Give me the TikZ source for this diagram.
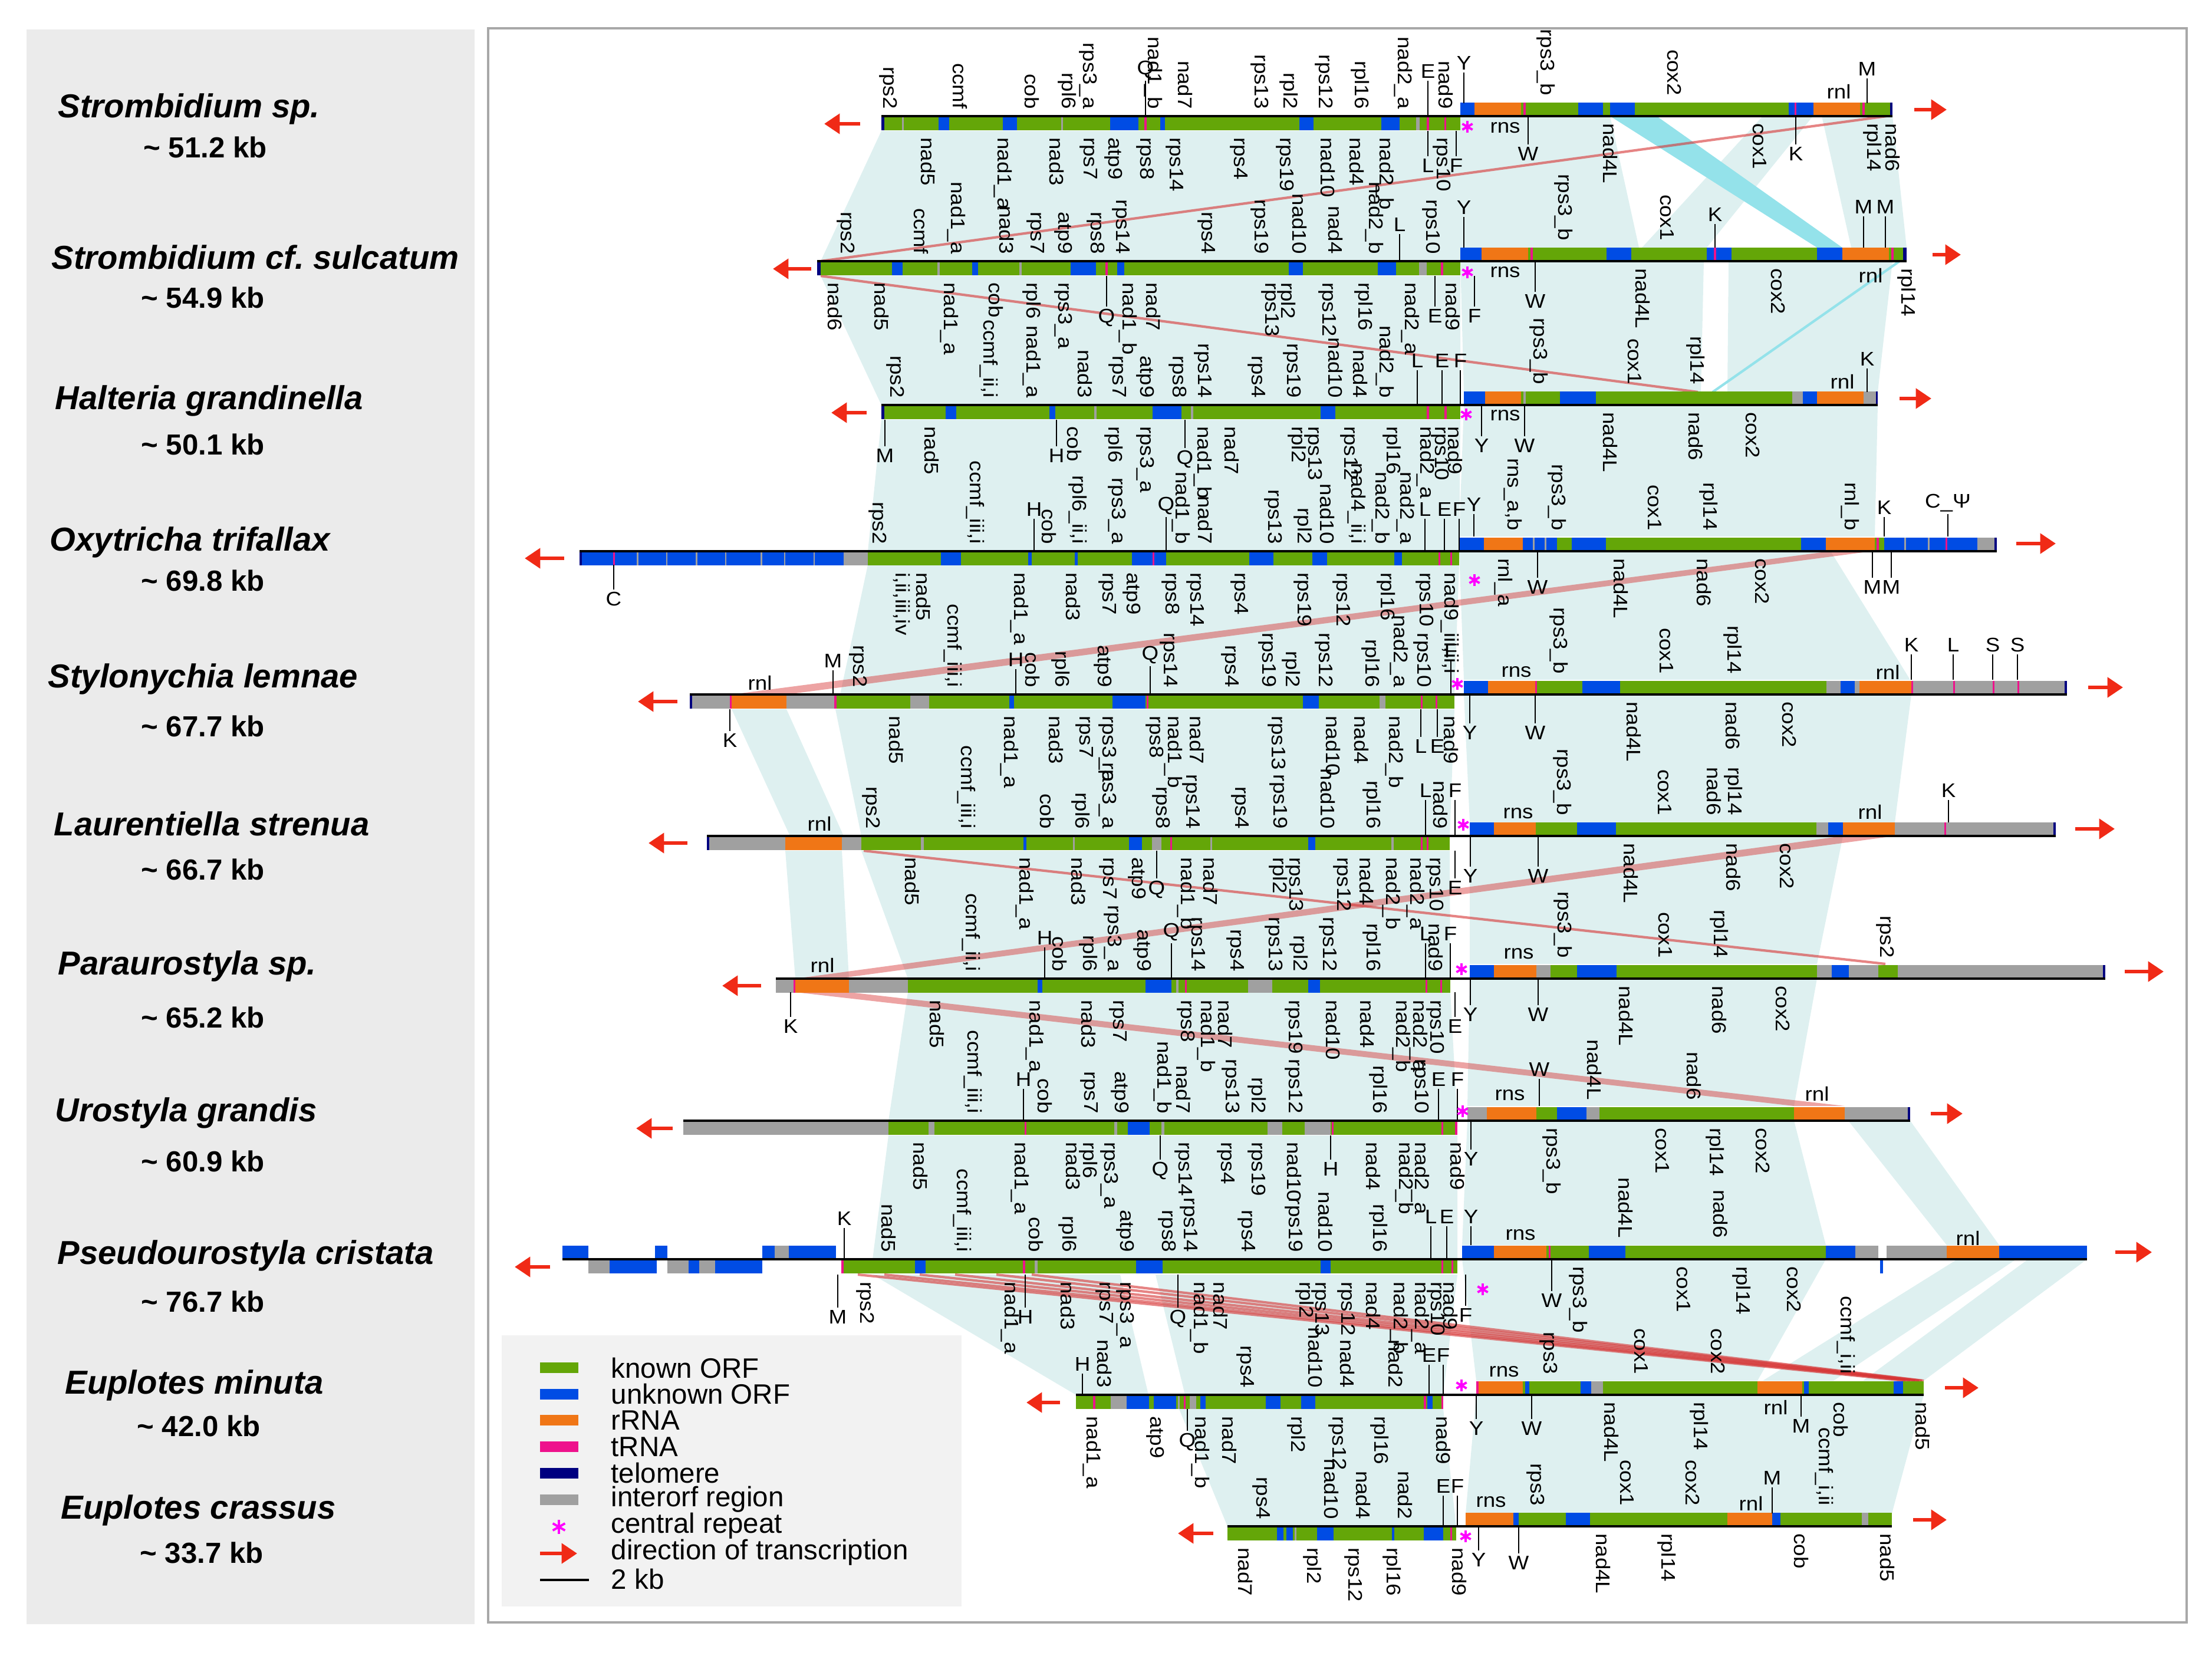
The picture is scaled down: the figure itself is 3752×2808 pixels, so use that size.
\documentclass[tikz,border=0pt]{standalone}
\usepackage{fontspec}
\setmainfont{Liberation Sans}
\newfontfamily\genefont[FakeStretch=1.1]{Liberation Sans}
\usetikzlibrary{arrows.meta}
\definecolor{knwn}{RGB}{100,166,8}
\definecolor{unkn}{RGB}{0,76,228}
\definecolor{rrna}{RGB}{240,118,22}
\definecolor{trna}{RGB}{238,18,140}
\definecolor{telo}{RGB}{0,0,128}
\definecolor{intr}{RGB}{160,160,160}
\definecolor{PaleClr}{RGB}{222,240,240}
\definecolor{CyanClr}{RGB}{148,226,234}
\definecolor{RedClr}{RGB}{214,50,50}
\definecolor{ArrClr}{RGB}{240,42,22}
\definecolor{CrepClr}{RGB}{255,0,255}
\definecolor{PanelClr}{RGB}{235,235,235}
\definecolor{LegClr}{RGB}{242,242,242}
\definecolor{FrameClr}{RGB}{168,168,168}

\tikzset{
  glab/.style={rotate=-90,font=\genefont\fontsize{9.5}{10}\selectfont,inner sep=1pt},
  tlab/.style={font=\genefont\fontsize{9.5}{10}\selectfont,inner sep=1pt},
  tck/.style={draw=black,line width=0.35pt},
  axln/.style={draw=black,line width=1.3pt},
  dirarr/.style={draw=ArrClr,line width=1.8pt,-{Triangle[length=7.5pt,width=9.5pt]}},
  pale/.style={fill=PaleClr},
  cyanband/.style={fill=CyanClr},
  cyanln/.style={draw=CyanClr,line width=1.2pt},
  redband/.style={fill=RedClr,fill opacity=0.45},
  redln/.style={draw=RedClr,line width=1.2pt,draw opacity=0.6},
  crepln/.style={draw=CrepClr,line width=1.1pt},
  crep/.pic={\foreach \ang in {90,30,-30} \draw[crepln] (\ang:10) -- (\ang+180:10);},
  spname/.style={anchor=west,font=\fontsize{16}{18}\selectfont\bfseries\itshape,inner sep=0pt},
  spsize/.style={font=\fontsize{14}{16}\selectfont\bfseries,inner sep=0pt},
  legtxt/.style={anchor=west,font=\fontsize{13.5}{15}\selectfont,inner sep=0pt}
}

\newcommand\lseg[2]{\foreach \xa/\xb/\cl in {#2} \fill[\cl] (\xa,#1) rectangle (\xb,#1+24);}
\newcommand\rseg[2]{\foreach \xa/\xb/\cl in {#2} \fill[\cl] (\xa,#1-23) rectangle (\xb,#1);}
\newcommand\labu[3]{\foreach \x/\lb [count=\k] in {#3} \node[glab,anchor=east] (#1-\k) at (\x,#2) {\lb};}
\newcommand\labd[3]{\foreach \x/\lb [count=\k] in {#3} \node[glab,anchor=west] (#1-\k) at (\x,#2) {\lb};}
\newcommand\ticku[2]{\foreach \x/\p/\q/\lb [count=\k] in {#2} \draw[tck] (\x,\p) -- (\x,\q) node[tlab,above] (#1-\k) {\lb};}
\newcommand\tickd[2]{\foreach \x/\p/\q/\lb [count=\k] in {#2} \draw[tck] (\x,\p) -- (\x,\q) node[tlab,below] (#1-\k) {\lb};}
\newcommand\hlab[2]{\foreach \x/\y/\lb [count=\k] in {#2} \node[tlab] (#1-\k) at (\x,\y) {\lb};}

\begin{document}
\begin{tikzpicture}[x=0.01cm,y=-0.01cm]
\useasboundingbox (0,0) rectangle (3752,2808);

\fill[PanelClr] (45,50) rectangle (805,2755);
\draw[draw=FrameClr,line width=1.2pt] (828,48) rectangle (3709,2752);

\foreach \x/\y/\nm/\z/\sz/\xs [count=\k] in {
  98/185/Strombidium sp./250/51.2/348,
  87/436/Strombidium cf.\ sulcatum/505/54.9/344,
  93/680/Halteria grandinella/754/50.1/344,
  84/920/Oxytricha trifallax/985/69.8/344,
  81/1152/Stylonychia lemnae/1232/67.7/344,
  91/1397/Laurentiella strenua/1475/66.7/344,
  98/1639/Paraurostyla sp./1726/65.2/344,
  93/1888/Urostyla grandis/1970/60.9/344,
  97/2130/Pseudourostyla cristata/2208/76.7/344,
  110/2350/Euplotes minuta/2419/42.0/337,
  103/2562/Euplotes crassus/2634/33.7/342}{
  \node[spname] (sp-\k) at (\x,\y) {\nm};
  \node[spsize] (kb-\k) at (\xs,\z) {\textasciitilde\ \sz\ kb};
}

\fill[pale] (1495,222)--(2477,222)--(2477,443)--(1392,443)--cycle;
\fill[pale] (2477,197)--(2731,197)--(2780,420)--(2477,420)--cycle;
\fill[pale] (2990,197)--(3075,197)--(2895,420)--(2785,420)--cycle;
\fill[pale] (3090,197)--(3210,197)--(3234,420)--(3140,420)--cycle;
\fill[cyanband] (2731,197)--(2810,197)--(3125,420)--(3082,420)--cycle;
\fill[pale] (1392,468)--(2477,468)--(2477,687)--(1495,687)--cycle;
\fill[pale] (2477,443)--(2890,443)--(2885,665)--(2483,665)--cycle;
\fill[pale] (2932,443)--(3210,443)--(3185,665)--(2930,665)--cycle;
\fill[pale] (1495,712)--(2477,712)--(2475,935)--(1472,935)--cycle;
\fill[pale] (2483,687)--(3185,687)--(3180,910)--(2475,910)--cycle;
\fill[pale] (1472,958)--(2475,958)--(2467,1178)--(1425,1178)--cycle;
\fill[pale] (2475,935)--(3105,935)--(3240,1153)--(2483,1153)--cycle;
\fill[pale] (1417,1203)--(2467,1203)--(2459,1418)--(1461,1418)--cycle;
\fill[pale] (1241,1203)--(1334,1203)--(1431,1418)--(1340,1418)--cycle;
\fill[pale] (2483,1178)--(3242,1178)--(3214,1395)--(2493,1395)--cycle;
\fill[pale] (1461,1443)--(2459,1443)--(2460,1660)--(1540,1660)--cycle;
\fill[pale] (1332,1443)--(1428,1443)--(1440,1660)--(1349,1660)--cycle;
\fill[pale] (2493,1418)--(3126,1418)--(3082,1635)--(2493,1635)--cycle;
\fill[pale] (1540,1683)--(2460,1683)--(2472,1901)--(1507,1901)--cycle;
\fill[pale] (2493,1660)--(3082,1660)--(3043,1876)--(2489,1876)--cycle;
\fill[pale] (1507,1926)--(2472,1926)--(2472,2136)--(1480,2136)--cycle;
\fill[pale] (2489,1901)--(3043,1901)--(3097,2112)--(2480,2112)--cycle;
\fill[pale] (3135,1901)--(3240,1901)--(3391,2112)--(3302,2112)--cycle;
\fill[pale] (1480,2162)--(1900,2162)--(1948,2366)--(1825,2366)--cycle;
\fill[pale] (1960,2162)--(2472,2162)--(2448,2366)--(2010,2366)--cycle;
\fill[pale] (2480,2136)--(3097,2136)--(2981,2342)--(2504,2342)--cycle;
\fill[pale] (3320,2136)--(3420,2136)--(3110,2342)--(2990,2342)--cycle;
\fill[pale] (3440,2136)--(3540,2136)--(3263,2342)--(3160,2342)--cycle;
\fill[pale] (2000,2390)--(2448,2390)--(2470,2589)--(2082,2589)--cycle;
\fill[pale] (2504,2366)--(3263,2366)--(3209,2567)--(2486,2567)--cycle;

\draw[redln] (3200,197) -- (1392,443);
\draw[redln] (1392,468) -- (2880,665);
\draw[cyanln] (3222,443) -- (2905,665);
\fill[redband] (3105,935)--(3175,935)--(1334,1178)--(1241,1178)--cycle;
\fill[redband] (3126,1418)--(3214,1418)--(1420,1660)--(1349,1660)--cycle;
\draw[redln] (1465,1443) -- (3198,1635);
\fill[redband] (1349,1683)--(1440,1683)--(3129,1876)--(3043,1876)--cycle;
\foreach \x/\q in {1455/3232,1500/3240,1560/3248,1620/3255,1690/3260,1750/3263}
  \draw[redln] (\x,2162) -- (\q,2342);

\lseg{197}{1495/2477/knwn, 1495/1500/telo, 1530/1533/intr, 1592/1610/unkn, 1701/1725/unkn, 1800/1803/intr, 1883/1931/unkn, 1941/1945/trna, 1968/1976/unkn, 2204/2228/unkn, 2343/2374/unkn, 2402/2408/intr, 2420/2424/trna, 2450/2453/trna}
\rseg{197}{2477/3210/knwn, 2477/2501/unkn, 2501/2580/rrna, 2584/2588/trna, 2677/2719/unkn, 2731/2773/unkn, 3034/3076/unkn, 3044/3047/trna, 3076/3155/rrna, 3159/3163/trna, 3206/3210/telo}
\lseg{443}{1386/2477/knwn, 1386/1392/telo, 1513/1531/unkn, 1590/1594/intr, 1649/1659/unkn, 1729/1733/intr, 1816/1859/unkn, 1875/1879/trna, 1895/1907/unkn, 2186/2210/unkn, 2337/2368/unkn, 2407/2420/intr, 2444/2448/trna}
\rseg{443}{2477/3234/knwn, 2477/2513/unkn, 2513/2592/rrna, 2596/2600/trna, 2725/2767/unkn, 2895/2937/unkn, 2907/2911/trna, 3082/3125/unkn, 3125/3204/rrna, 3208/3212/trna, 3228/3234/telo}
\lseg{687}{1495/2477/knwn, 1495/1500/telo, 1604/1622/unkn, 1780/1790/unkn, 1856/1860/intr, 1955/2004/unkn, 2020/2024/intr, 2240/2265/unkn, 2420/2424/trna, 2450/2454/trna}
\rseg{687}{2483/3185/knwn, 2483/2519/unkn, 2519/2580/rrna, 2584/2588/intr, 2646/2707/unkn, 3040/3058/intr, 3058/3082/unkn, 3082/3161/rrna, 3161/3182/intr, 3182/3185/telo}
\lseg{935}{983/1472/unkn, 983/987/telo, 1040/1043/trna, 1080/1083/intr, 1130/1132/intr, 1180/1183/intr, 1230/1232/intr, 1290/1293/intr, 1330/1332/intr, 1380/1382/intr, 1431/1472/intr, 1472/2475/knwn, 1596/1630/unkn, 1744/1750/unkn, 1823/1828/unkn, 1920/1978/unkn, 1955/1958/trna, 2119/2160/unkn, 2226/2251/unkn, 2365/2378/unkn, 2440/2443/trna, 2460/2463/trna}
\rseg{935}{2475/3387/knwn, 2475/2517/unkn, 2517/2583/rrna, 2583/2641/unkn, 2600/2603/intr, 2620/2623/intr, 2666/2724/unkn, 3055/3097/unkn, 3097/3180/rrna, 3183/3187/trna, 3196/3354/unkn, 3230/3233/intr, 3270/3273/intr, 3300/3303/trna, 3354/3383/intr, 3383/3387/telo}
\lseg{1178}{1170/2467/knwn, 1170/1238/intr, 1170/1174/telo, 1238/1241/trna, 1241/1334/rrna, 1334/1417/intr, 1415/1419/trna, 1544/1576/intr, 1712/1720/unkn, 1887/1943/unkn, 1945/1948/trna, 2210/2237/unkn, 2340/2350/intr, 2410/2413/trna, 2435/2438/trna}
\rseg{1178}{2483/3506/knwn, 2483/2524/unkn, 2524/2604/rrna, 2604/2607/trna, 2684/2748/unkn, 3098/3122/intr, 3122/3146/unkn, 3146/3154/intr, 3154/3242/rrna, 3242/3502/intr, 3242/3245/trna, 3313/3316/trna, 3380/3383/trna, 3422/3425/trna, 3502/3506/telo}
\lseg{1418}{1199/2459/knwn, 1199/1332/intr, 1199/1203/telo, 1332/1428/rrna, 1428/1461/intr, 1562/1567/intr, 1736/1741/unkn, 1820/1823/intr, 1915/1937/unkn, 1954/1970/intr, 1985/1988/trna, 2053/2056/intr, 2219/2231/unkn, 2360/2364/intr, 2410/2413/trna, 2420/2423/trna}
\rseg{1418}{2493/3487/knwn, 2493/2534/unkn, 2534/2605/rrna, 2675/2741/unkn, 3081/3101/intr, 3101/3126/unkn, 3126/3214/rrna, 3214/3483/intr, 3298/3301/trna, 3483/3487/telo}
\lseg{1660}{1316/2460/knwn, 1316/1346/intr, 1346/1349/trna, 1349/1440/rrna, 1440/1540/intr, 1760/1768/unkn, 1943/1987/unkn, 1995/1999/intr, 2010/2013/trna, 2117/2158/intr, 2219/2239/unkn, 2418/2421/trna, 2443/2446/trna}
\rseg{1660}{2493/3571/knwn, 2493/2534/unkn, 2534/2606/rrna, 2606/2630/intr, 2675/2742/unkn, 3082/3107/intr, 3107/3136/unkn, 3136/3186/intr, 3219/3567/intr, 3567/3571/telo}
\lseg{1901}{1159/2472/knwn, 1159/1507/intr, 1575/1585/intr, 1738/1741/trna, 1890/1895/intr, 1913/1950/unkn, 1970/1975/intr, 2150/2175/intr, 2213/2257/intr, 2259/2262/trna, 2445/2448/trna, 2468/2472/trna}
\rseg{1901}{2489/3240/knwn, 2489/2522/intr, 2522/2606/rrna, 2641/2691/unkn, 2691/2713/intr, 3043/3129/rrna, 3129/3236/intr, 3236/3240/telo}
\lseg{2136}{998/1034/intr, 1034/1114/unkn, 1132/1168/intr, 1168/1186/unkn, 1186/1213/intr, 1213/1293/unkn}
\rseg{2136}{954/998/unkn, 1111/1132/unkn, 1293/1314/unkn, 1314/1338/intr, 1338/1418/unkn}
\lseg{2136}{1427/2472/knwn, 1427/1431/trna, 1552/1570/unkn, 1735/1739/trna, 1755/1760/intr, 1927/1972/unkn, 2240/2257/unkn, 2445/2448/trna, 2462/2465/trna}
\rseg{2136}{2480/3147/knwn, 2480/2534/unkn, 2534/2623/rrna, 2627/2630/trna, 2695/2757/unkn, 3097/3147/unkn, 3147/3186/intr, 3200/3302/intr, 3302/3391/rrna, 3391/3540/unkn}
\fill[unkn] (3189,2136) rectangle (3194,2160);
\lseg{2366}{1825/2448/knwn, 1854/1858/trna, 1884/1911/intr, 1911/1949/unkn, 1957/1995/unkn, 1998/2001/intr, 2008/2011/trna, 2018/2029/intr, 2036/2045/unkn, 2147/2172/unkn, 2207/2231/unkn, 2415/2419/trna, 2421/2430/unkn, 2445/2448/trna}
\rseg{2366}{2504/3263/knwn, 2504/2508/trna, 2508/2583/rrna, 2587/2594/unkn, 2681/2699/unkn, 2699/2719/intr, 2981/3057/rrna, 3060/3068/unkn, 3212/3228/unkn}
\lseg{2589}{2082/2470/knwn, 2166/2177/unkn, 2182/2193/unkn, 2196/2199/intr, 2234/2262/unkn, 2361/2365/unkn, 2415/2448/unkn, 2460/2463/trna}
\rseg{2589}{2486/3209/knwn, 2486/2567/rrna, 2567/2576/unkn, 2656/2697/unkn, 2930/3006/rrna, 3006/3020/unkn, 3158/3169/intr}

\foreach \xa/\xb/\y in {1495/3210/197, 1386/3234/443, 1495/3185/687, 983/3387/935, 1170/3506/1178, 1199/3487/1418, 1316/3571/1660, 1159/3240/1901, 954/3540/2136, 1825/3263/2366, 2082/3209/2589}
  \draw[axln] (\xa,\y) -- (\xb,\y);

\labu{a1l}{189}{1507/rps2, 1628/ccmf, 1750/cob, 1810/rpl6, 1846/rps3\_a, 1956/nad1\_b, 2010/nad7, 2137/rps13, 2186/rpl2, 2246/rps12, 2307/rpl16, 2380/nad2\_a, 2452/nad9}
\labu{a1r}{166}{2622/rps3\_b, 2840/cox2}
\labd{b1l}{229}{1574/nad5, 1701/nad1\_a, 1792/nad3, 1846/rps7, 1889/atp9, 1943/rps8, 1992/rps14, 2101/rps4, 2180/rps19, 2252/nad10, 2301/nad4, 2349/nad2\_b, 2446/rps10}
\labd{b1r}{205}{2731/nad4L, 2985/cox1, 3176/rpl14, 3210/nad6}
\ticku{c1u}{1943/197/137/Q, 2422/197/137/E, 2483/175/123/Y, 3167/175/133/M}
\tickd{c1d}{2422/222/265/L, 2470/222/265/F, 2592/197/245/W, 3046/197/245/K}
\hlab{h1}{3119/155/rnl, 2553/217/rns}
\pic at (2489,215) {crep};

\labu{a2l}{435}{1435/rps2, 1562/ccmf, 1622/nad1\_a, 1707/nad3, 1756/rps7, 1804/atp9, 1859/rps8, 1901/rps14, 2046/rps4, 2137/rps19, 2204/nad10, 2265/nad4, 2331/nad2\_b, 2428/rps10}
\labu{a2r}{412}{2652/rps3\_b, 2828/cox1}
\labd{b2l}{475}{1416/nad6, 1495/nad5, 1610/nad1\_a, 1689/cob, 1750/rpl6, 1804/rps3\_a, 1913/nad1\_b, 1956/nad7, 2155/rps13, 2182/rpl2, 2252/rps12, 2313/rpl16, 2392/nad2\_a, 2464/nad9}
\labd{b2r}{451}{2786/nad4L, 3016/cox2, 3234/rpl14}
\ticku{c2u}{2374/443/397/L, 2483/420/368/Y, 2909/420/380/K, 3161/420/367/M, 3198/420/367/M}
\tickd{c2d}{1877/468/520/Q, 2434/468/520/E, 2501/468/520/F, 2604/443/495/W}
\hlab{h2}{2553/462/rns, 3173/467/rnl}
\pic at (2489,462) {crep};

\labu{a3l}{679}{1519/rps2, 1677/{ccmf\_ii,i}, 1750/nad1\_a, 1840/nad3, 1895/rps7, 1943/atp9, 1998/rps8, 2040/rps14, 2131/rps4, 2192/rps19, 2265/nad10, 2307/nad4, 2349/nad2\_b}
\labu{a3r}{656}{2610/rps3\_b, 2773/cox1, 2876/rpl14}
\labd{b3l}{719}{1580/nad5, 1822/cob, 1889/rpl6, 1943/rps3\_a, 2040/nad1\_b, 2089/nad7, 2200/rpl2, 2228/rps13, 2289/rps12, 2361/rpl16, 2418/nad2\_a, 2443/rps10, 2468/nad9}
\labd{b3r}{695}{2731/nad4L, 2876/nad6, 2973/cox2}
\ticku{c3u}{2404/687/628/L, 2446/687/628/E, 2477/687/628/F, 3167/665/625/K}
\tickd{c3d}{1501/712/757/M, 1792/712/757/H, 2010/712/760/Q, 2513/687/740/Y, 2586/687/740/W}
\hlab{h3}{2553/705/rns, 3125/647/rnl}
\pic at (2487,703) {crep};

\labu{a4l}{927}{1489/rps2, 1654/{ccmf\_iii,i}, 1779/cob, 1828/{rpl6\_ii,i}, 1895/rps3\_a, 2003/nad1\_b, 2044/nad7, 2160/rps13, 2210/rpl2, 2251/nad10, 2301/{nad4\_ii,i}, 2342/nad2\_b, 2384/nad2\_a}
\labu{a4r}{904}{2566/{rns\_a,b}, 2641/rps3\_b, 2807/cox1, 2898/rpl14, 3138/rnl\_b}
\labd{b4l}{967}{1729/nad1\_a, 1820/nad3, 1878/rps7, 1920/atp9, 1986/rps8, 2027/rps14, 2102/rps4, 2210/rps19, 2276/rps12, 2351/rpl16, 2417/rps10, 2459/{nad9\_iii,ii,i}}
\node[glab,anchor=west,align=left] (b4l-n5) at (1547,967) {nad5\\i,ii,iii,iv};
\labd{b4r}{943}{2550/rnl\_a, 2749/nad4L, 2890/nad6, 2989/cox2}
\ticku{c4u}{1754/935/880/H, 1978/935/877/Q, 2417/935/880/L, 2450/935/880/E, 2475/935/880/F, 2500/910/872/Y, 3196/910/877/K, 3304/910/872/C\_Ψ}
\tickd{c4d}{1041/958/1000/C, 2608/935/980/W, 3176/935/980/M, 3208/935/980/M}
\pic at (2501,984) {crep};

\labu{a5l}{1170}{1456/rps2, 1616/{ccmf\_iii,i}, 1751/cob, 1799/rpl6, 1871/atp9, 1982/rps14, 2086/rps4, 2150/rps19, 2190/rpl2, 2246/rps12, 2325/rpl16, 2373/nad2\_a, 2413/rps10}
\labu{a5r}{1147}{2644/rps3\_b, 2827/cox1, 2939/rpl14}
\labd{b5l}{1210}{1520/nad5, 1712/nad1\_a, 1791/nad3, 1839/rps7, 1879/rps3\_a, 1959/rps8, 1990/nad1\_b, 2030/nad7, 2166/rps13, 2261/nad10, 2309/nad4, 2365/nad2\_b, 2461/nad9}
\labd{b5r}{1186}{2771/nad4L, 2939/nad6, 3035/cox2}
\ticku{c5u}{1413/1178/1137/M, 1723/1178/1135/H, 1951/1178/1130/Q, 2461/1178/1120/F, 3242/1153/1110/K, 3313/1153/1110/L, 3380/1153/1110/S, 3422/1153/1110/S}
\tickd{c5d}{1238/1203/1240/K, 2410/1203/1250/L, 2438/1203/1250/E, 2493/1178/1227/Y, 2604/1178/1227/W}
\hlab{h5}{1289/1158/rnl, 2572/1140/rns, 3202/1140/rnl}
\pic at (2472,1160) {crep};

\labu{a6l}{1410}{1478/rps2, 1639/{ccmf\_iii,i}, 1776/cob, 1833/rpl6, 1879/rps3\_a, 1970/rps8, 2020/rps14, 2103/rps4, 2169/rps19, 2252/nad10, 2327/rpl16, 2443/nad9}
\labu{a6r}{1387}{2650/rps3\_b, 2824/cox1, 2907/nad6, 2940/rpl14}
\labd{b6l}{1450}{1547/nad5, 1738/nad1\_a, 1829/nad3, 1879/rps7, 1929/atp9, 2012/nad1\_b, 2053/nad7, 2168/rpl2, 2196/rps13, 2277/rps12, 2318/nad4, 2360/nad2\_b, 2401/nad2\_a, 2434/rps10}
\labd{b6r}{1426}{2766/nad4L, 2940/nad6, 3031/cox2}
\ticku{c6u}{2418/1418/1357/L, 2468/1418/1357/F, 3305/1395/1357/K}
\tickd{c6d}{1962/1443/1490/Q, 2468/1443/1490/E, 2494/1418/1470/Y, 2609/1418/1470/W}
\hlab{h6}{1390/1397/rnl, 2575/1380/rns, 3172/1377/rnl}
\pic at (2482,1399) {crep};

\labu{a7l}{1652}{1647/{ccmf\_ii,i}, 1797/cob, 1846/rpl6, 1888/rps3\_a, 1938/atp9, 2029/rps14, 2095/rps4, 2161/rps13, 2203/rpl2, 2253/rps12, 2327/rpl16, 2435/nad9}
\labu{a7r}{1629}{2651/rps3\_b, 2825/cox1, 2916/rpl14, 3198/rps2}
\labd{b7l}{1692}{1589/nad5, 1755/nad1\_a, 1846/nad3, 1896/rps7, 2012/rps8, 2046/nad1\_b, 2078/nad7, 2195/rps19, 2261/nad10, 2319/nad4, 2377/nad2\_b, 2406/nad2\_a, 2435/rps10}
\labd{b7r}{1668}{2758/nad4L, 2916/nad6, 3024/cox2}
\ticku{c7u}{1772/1660/1607/H, 1987/1660/1600/Q, 2418/1660/1600/L, 2460/1660/1600/F}
\tickd{c7d}{1341/1683/1725/K, 2468/1683/1725/E, 2494/1660/1705/Y, 2609/1660/1705/W}
\hlab{h7}{1395/1637/rnl, 2576/1618/rns}
\pic at (2479,1644) {crep};

\labu{a8l}{1893}{1650/{ccmf\_iii,i}, 1772/cob, 1847/rps7, 1900/atp9, 1972/nad1\_b, 2007/nad7, 2088/rps13, 2132/rpl2, 2195/rps12, 2338/rpl16, 2409/rps10}
\labu{a8r}{1870}{2704/nad4L, 2873/nad6}
\labd{b8l}{1933}{1561/nad5, 1730/nad1\_a, 1820/nad3, 1846/rpl6, 1882/rps3\_a, 2007/rps14, 2079/rps4, 2132/rps19, 2195/nad10, 2329/nad4, 2382/nad2\_b, 2409/nad2\_a, 2472/nad9}
\labd{b8r}{1909}{2632/rps3\_b, 2820/cox1, 2909/rpl14, 2990/cox2}
\ticku{c8u}{1736/1901/1847/H, 2440/1901/1847/E, 2472/1901/1847/F, 2611/1876/1830/W}
\tickd{c8d}{1968/1926/1967/Q, 2257/1926/1967/H, 2495/1901/1950/Y}
\hlab{h8}{2561/1858/rns, 3082/1855/rnl}
\pic at (2481,1885) {crep};

\labu{a9l}{2128}{1507/nad5, 1632/{ccmf\_iii,i}, 1757/cob, 1811/rpl6, 1909/atp9, 1980/rps8, 2016/rps14, 2114/rps4, 2195/rps19, 2248/nad10, 2338/rpl16}
\labu{a9r}{2104}{2757/nad4L, 2918/nad6}
\labd{b9l}{2170}{1468/rps2, 1713/nad1\_a, 1811/nad3, 1873/rps7, 1909/rps3\_a, 2034/nad1\_b, 2070/nad7, 2213/rpl2, 2240/rps13, 2284/rps12, 2329/nad4, 2373/nad2\_b, 2409/nad2\_a, 2436/rps10, 2460/nad9}
\labd{b9r}{2144}{2677/rps3\_b, 2856/cox1, 2954/rpl14, 3043/cox2}
\ticku{c9u}{1432/2136/2083/K, 2427/2136/2080/L, 2454/2136/2080/E, 2495/2112/2080/Y}
\tickd{c9d}{1421/2162/2218/M, 1739/2162/2218/H, 1998/2162/2218/Q, 2486/2162/2215/F, 2632/2136/2190/W}
\hlab{h9}{2579/2095/rns, 3338/2100/rnl}
\pic at (2515,2187) {crep};

\labu{a10l}{2358}{1873/nad3, 2112/rps4, 2231/nad10, 2285/nad4, 2367/nad2}
\labu{a10r}{2335}{2627/rps3, 2784/cox1, 2914/cox2, 3131/{ccmf\_i,ii}}
\labd{b10l}{2398}{1852/nad1\_a, 1960/atp9, 2036/nad1\_b, 2085/nad7, 2199/rpl2, 2269/rps12, 2340/rpl16, 2448/nad9}
\labd{b10r}{2374}{2733/nad4L, 2882/rpl14, 3122/cob, 3261/nad5}
\ticku{c10u}{1836/2366/2330/H, 2424/2366/2315/E, 2448/2366/2315/F}
\tickd{c10d}{2014/2390/2427/Q, 2504/2366/2407/Y, 2598/2366/2407/W, 3055/2366/2403/M}
\hlab{h10}{2551/2327/rns, 3012/2387/rnl}
\pic at (2479,2350) {crep};

\labu{a11l}{2581}{2139/rps4, 2258/nad10, 2312/nad4, 2383/nad2}
\labu{a11r}{2558}{2605/rps3, 2760/cox1, 2871/cox2, 3094/{ccmf\_i,ii}}
\labd{b11l}{2621}{2112/nad7, 2226/rpl2, 2296/rps12, 2361/rpl16, 2475/nad9}
\labd{b11r}{2597}{2719/nad4L, 2827/rpl14, 3055/cob, 3201/nad5}
\ticku{c11u}{2448/2589/2537/E, 2472/2589/2537/F, 3006/2567/2523/M}
\tickd{c11d}{2508/2589/2630/Y, 2576/2589/2635/W}
\hlab{h11}{2529/2548/rns, 2970/2550/rnl}
\pic at (2486,2606) {crep};

\foreach \p/\q/\y in {1459/1398/210, 1376/1311/456, 1470/1410/700, 957/890/947, 1149/1082/1190, 1166/1100/1430, 1291/1225/1672, 1141/1079/1914, 933/873/2149, 1798/1741/2379, 2058/1998/2601,
  3247/3302/186, 3278/3326/432, 3222/3276/676, 3420/3487/922, 3542/3601/1166, 3520/3587/1406, 3604/3670/1648, 3275/3329/1889, 3588/3650/2124, 3299/3356/2354, 3245/3302/2578}
  \draw[dirarr] (\p,\y) -- (\q,\y);

\fill[LegClr] (851,2265) rectangle (1631,2725);
\foreach \cl/\lb [count=\k] in {knwn/known ORF, unkn/unknown ORF, rrna/rRNA, trna/tRNA, telo/telomere, intr/interorf region}{
  \fill[\cl] (916,2311+44.7*\k-44.7) rectangle (981,2329+44.7*\k-44.7);
  \node[legtxt] (lg-\k) at (1036,2320+44.7*\k-44.7) {\lb};
}
\pic[scale=1.2] at (948,2590) {crep};
\node[legtxt] (lg-7) at (1036,2588) {central repeat};
\draw[dirarr] (916,2635) -- (979,2635);
\node[legtxt] (lg-8) at (1036,2633) {direction of transcription};
\draw[black,line width=1.2pt] (916,2680) -- (999,2680);
\node[legtxt] (lg-9) at (1036,2678) {2 kb};

\end{tikzpicture}
\end{document}
